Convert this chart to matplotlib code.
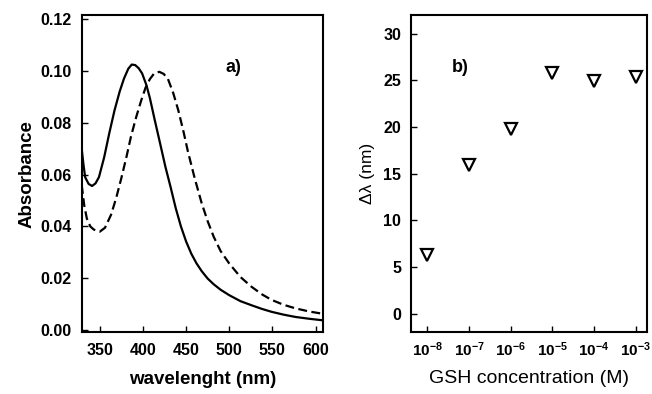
import matplotlib
matplotlib.use('Agg')
import matplotlib.pyplot as plt

plt.rcParams['font.family'] = ['Liberation Sans', 'DejaVu Sans']
plt.rcParams['mathtext.default'] = 'regular'

# a) absorbance spectra
wl_solid = [329, 331, 333, 337, 341, 345, 349, 355, 361, 367, 373, 378, 383, 387, 391, 395,
            399, 404, 408, 414, 420, 426, 432, 438, 444, 450, 456, 462, 468, 475, 482, 490,
            500, 513, 526, 538, 549, 563, 577, 593, 609]
abs_solid = [0.0700, 0.0640, 0.0590, 0.0564, 0.0556, 0.0566, 0.0590, 0.0666, 0.0760, 0.0847,
             0.0920, 0.0970, 0.1008, 0.1024, 0.1022, 0.1010, 0.0990, 0.0945, 0.0895, 0.0805,
             0.0718, 0.0630, 0.0552, 0.0470, 0.0400, 0.0342, 0.0295, 0.0258, 0.0228, 0.0199,
             0.0177, 0.0156, 0.0135, 0.0112, 0.0096, 0.0082, 0.0071, 0.0060, 0.0051, 0.0044,
             0.0038]

wl_dash = [329, 332, 335, 339, 343, 350, 356, 363, 369, 375, 381, 386, 392, 398, 403, 408,
           413, 419, 424, 429, 435, 441, 447, 452, 460, 468, 475, 482, 490, 500, 513, 526,
           538, 549, 563, 577, 593, 609]
abs_dash = [0.0560, 0.0480, 0.0430, 0.0400, 0.0388, 0.0380, 0.0395, 0.0445, 0.0510, 0.0587,
            0.0670, 0.0745, 0.0820, 0.0886, 0.0935, 0.0968, 0.0990, 0.0996, 0.0988, 0.0968,
            0.0915, 0.0847, 0.0765, 0.0690, 0.0585, 0.0490, 0.0420, 0.0360, 0.0305, 0.0257,
            0.0205, 0.0167, 0.0138, 0.0117, 0.0098, 0.0084, 0.0072, 0.0063]

# b) wavelength shift vs concentration
conc = [1e-8, 1e-7, 1e-6, 1e-5, 1e-4, 1e-3]
conc_labels = ['10$^{-8}$', '10$^{-7}$', '10$^{-6}$', '10$^{-5}$', '10$^{-4}$', '10$^{-3}$']
shift = [6.3, 15.9, 19.8, 25.8, 24.9, 25.4]

fig = plt.figure(figsize=(6.52, 3.94), dpi=100)
ax1 = fig.add_axes([0.1253, 0.1566, 0.3706, 0.8053])
ax2 = fig.add_axes([0.6304, 0.1566, 0.3624, 0.8053])

ax1.plot(wl_solid, abs_solid, color='black', linewidth=1.6)
ax1.plot(wl_dash, abs_dash, color='black', linewidth=1.6, linestyle=(0, (4.0, 2.0)))
ax1.set_xlim(329, 609)
ax1.set_ylim(-0.0008, 0.1215)
ax1.set_xticks([350, 400, 450, 500, 550, 600])
ax1.set_yticks([0.00, 0.02, 0.04, 0.06, 0.08, 0.10, 0.12])
ax1.set_yticklabels(['0.00', '0.02', '0.04', '0.06', '0.08', '0.10', '0.12'])
ax1.set_xlabel('wavelenght (nm)', fontsize=13.5, fontweight='bold', labelpad=9)
ax1.set_ylabel('Absorbance', fontsize=13.5, fontweight='bold', labelpad=4)
ax1.text(0.63, 0.833, 'a)', transform=ax1.transAxes, fontsize=13, fontweight='bold',
         ha='center', va='center')

ax2.plot(conc, shift, linestyle='none', marker='v', markersize=8, markerfacecolor='white',
         markeredgecolor='black', markeredgewidth=1.6)
ax2.set_xscale('log')
ax2.set_xlim(10 ** -8.39, 10 ** -2.72)
ax2.set_ylim(-2, 32)
ax2.set_xticks(conc)
ax2.set_xticklabels(conc_labels)
ax2.minorticks_off()
ax2.set_yticks([0, 5, 10, 15, 20, 25, 30])
ax2.set_xlabel('GSH concentration (M)', fontsize=14, labelpad=8)
ax2.set_ylabel('Δλ (nm)', fontsize=12.5, labelpad=6)
ax2.text(0.21, 0.833, 'b)', transform=ax2.transAxes, fontsize=13, fontweight='bold',
         ha='center', va='center')

for ax in (ax1, ax2):
    for s in ax.spines.values():
        s.set_linewidth(1.5)
    ax.tick_params(direction='in', length=4.5, width=1, labelsize=11.5, pad=7)
    for lab in ax.get_xticklabels() + ax.get_yticklabels():
        lab.set_fontweight('bold')
ax1.tick_params(axis='x', pad=8)
ax2.tick_params(axis='x', labelsize=11, pad=6)

plt.savefig('out.png', dpi=100)
